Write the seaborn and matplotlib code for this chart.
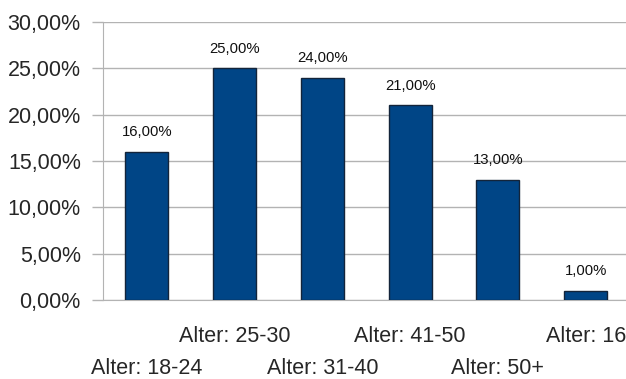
import matplotlib
matplotlib.use("Agg")
import matplotlib.pyplot as plt
import matplotlib.transforms as mtransforms
import seaborn as sns
import numpy as np
from matplotlib.ticker import FuncFormatter, FixedLocator


categories = ["Alter: 18-24", "Alter: 25-30", "Alter: 31-40", "Alter: 41-50", "Alter: 50+", "Alter: 16"]
values = [16, 25, 24, 21, 13, 1]
y_ticks = [0, 5, 10, 15, 20, 25, 30]


def pct(v, pos=None):
    return f"{v:.2f}".replace(".", ",") + "%"


def main():
    sns.set_style("white")
    plt.rcParams['font.family'] = ['Liberation Sans', 'DejaVu Sans']

    fig = plt.figure(figsize=(6.26, 3.79), dpi=100)
    ax = fig.add_axes([103 / 626, 1 - 300 / 379, 526.5 / 626, 278 / 379])

    sns.barplot(x=categories, y=values, color="#004586", saturation=1,
                width=0.49, edgecolor="#13243a", linewidth=1.0, ax=ax, zorder=3)

    ax.set_ylim(0, 30)
    ax.set_xlim(-0.5, len(categories) - 0.5)
    ax.yaxis.set_major_locator(FixedLocator(y_ticks))
    ax.yaxis.set_major_formatter(FuncFormatter(pct))
    ax.yaxis.grid(True, color="#b3b3b3", linewidth=1, zorder=0)
    ax.set_axisbelow(True)

    # data labels
    for i, v in enumerate(values):
        ax.annotate(pct(v), (i, v), xytext=(0, 9), textcoords="offset points",
                    ha="center", va="bottom", fontsize=10.7, color="#111111")

    # staggered category labels
    ax.set_xticks(range(len(categories)))
    ax.set_xticklabels(categories, fontsize=15.5)
    ax.tick_params(axis="x", which="major", length=0, pad=19)
    shift = mtransforms.ScaledTranslation(0, -0.32, fig.dpi_scale_trans)
    for i, lab in enumerate(ax.get_xticklabels()):
        if i % 2 == 0:
            lab.set_transform(lab.get_transform() + shift)
    ax.set_xticks(np.arange(-0.5, len(categories), 1), minor=True)
    ax.tick_params(axis="x", which="minor", length=8, width=1, color="#b3b3b3", direction="out")

    ax.tick_params(axis="y", length=8, width=1, color="#b3b3b3", pad=8, labelsize=15.5, direction="out", left=True)

    for s in ["top", "right"]:
        ax.spines[s].set_visible(False)
    ax.spines["left"].set_color("#b3b3b3")
    ax.spines["bottom"].set_color("#b3b3b3")
    ax.set_xlabel("")
    ax.set_ylabel("")

    fig.savefig("out.png", dpi=100)


if __name__ == "__main__":
    main()
